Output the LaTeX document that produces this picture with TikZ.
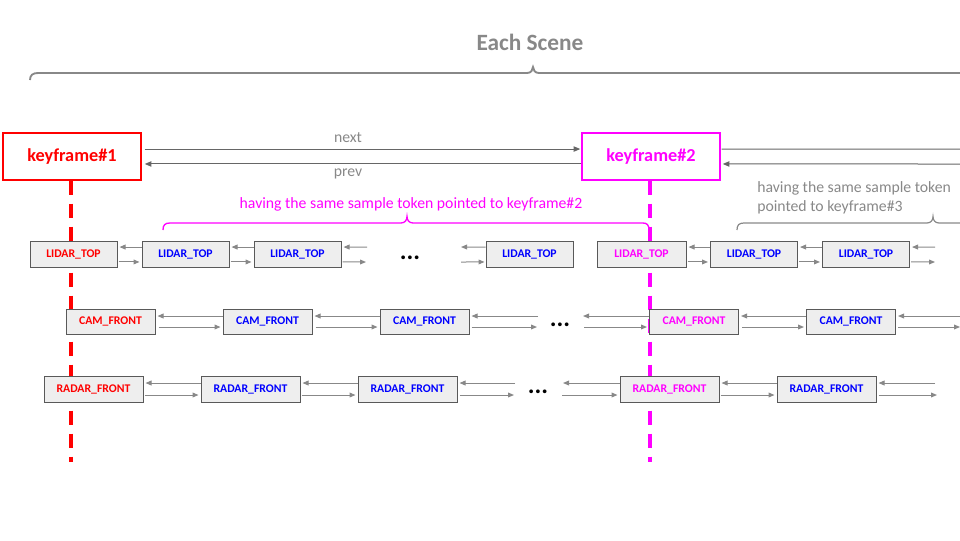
\documentclass[tikz,border=0pt]{standalone}
\usepackage{fontspec}
\setmainfont{Carlito}
\usetikzlibrary{arrows.meta}
\definecolor{kred}{HTML}{FF0000}
\definecolor{kmag}{HTML}{FF00FF}
\definecolor{kblue}{HTML}{0000FF}
\definecolor{tgray}{HTML}{888888}
\definecolor{agray}{HTML}{888888}
\definecolor{kgray}{HTML}{666666}
\definecolor{bborder}{HTML}{595959}
\definecolor{bfill}{HTML}{EEEEEE}
\tikzset{
  sbox/.style={draw=bborder, fill=bfill, line width=0.75pt, inner sep=0pt,
    font=\bfseries\fontsize{8.8}{10}\selectfont},
  lbox/.style={sbox, minimum width=65.25pt, minimum height=19.5pt},
  cbox/.style={sbox, minimum width=66.75pt, minimum height=18.75pt},
  rbox/.style={sbox, minimum width=74.25pt, minimum height=19.5pt},
  kfbox/.style={draw, fill=white, line width=1.1pt, minimum width=103.5pt, minimum height=35.25pt,
    inner sep=0pt, font=\bfseries\fontsize{13.7}{16}\selectfont},
  link/.style={draw=agray, line width=0.75pt, -{Triangle[length=4.5pt,width=3.6pt]}},
  plain/.style={draw=agray, line width=0.75pt},
  klink/.style={draw=kgray, line width=0.75pt, -{Triangle[length=5pt,width=4pt]}},
  kplain/.style={draw=kgray, line width=0.75pt},
  dots/.style={font=\bfseries\fontsize{19}{22}\selectfont, inner sep=0pt},
  kdash/.style={line width=3pt, dash pattern=on 10.5pt off 6.75pt},
  lbl/.style={text=tgray, font=\fontsize{11.8}{14}\selectfont, inner sep=0pt},
}
\begin{document}
\begin{tikzpicture}[x=0.75pt,y=-0.75pt]
\useasboundingbox (0,0) rectangle (960,540);

% title and scene brace
\node[text=tgray, font=\bfseries\fontsize{17.5}{20}\selectfont, inner sep=0pt] (title) at (530,42) {Each Scene};
\draw[tgray, line width=1.4pt] (30,80) .. controls (30,75) and (33,73) .. (38,73) -- (527,73)
  .. controls (531,73) and (533,70) .. (533,67) .. controls (533,70) and (535,73) .. (539,73) -- (965,73);

% keyframes
\node[kfbox, draw=kred, text=kred] (kf1) at (72,156.5) {keyframe\#1};
\node[kfbox, draw=kmag, text=kmag] (kf2) at (651,156.5) {keyframe\#2};

% dashed lines
\coordinate (d1) at (71,462);
\coordinate (d2) at (650,462);
\draw[kdash, kred] (kf1.south -| d1) -- (d1);
\draw[kdash, kmag] (kf2.south -| d2) -- (d2);

% next / prev
\draw[klink] ([xshift=2.25pt,yshift=5.6pt]kf1.east) -- ([xshift=-0.75pt,yshift=5.6pt]kf2.west);
\draw[klink] ([yshift=-5.6pt]kf2.west) -- ([xshift=2.25pt,yshift=-5.6pt]kf1.east);
\node[lbl] (nextl) at (348,138) {next};
\node[lbl] (prevl) at (348,174) {prev};
\coordinate (kn) at (962,149);
\coordinate (kp) at (962,164);
\draw[kplain] ([xshift=0.75pt,yshift=5.6pt]kf2.east) -- (kn);
\draw[klink] (kp) -- ([xshift=1.5pt,yshift=-5.6pt]kf2.east);

% magenta brace + text
\node[text=kmag, font=\fontsize{11.8}{14}\selectfont, inner sep=0pt] (t2) at (411,204) {having the same sample token pointed to keyframe\#2};
\draw[kmag, line width=1pt] (163,230) .. controls (163,225) and (165,223) .. (170,223) -- (401,223)
  .. controls (405,223) and (407,220) .. (407,216.5) .. controls (407,220) and (409,223) .. (413,223) -- (643,223)
  .. controls (647,223) and (649,225) .. (649,230);

% gray brace + text
\node[lbl, align=left, anchor=west, font=\fontsize{11.8}{14.25}\selectfont] (t3) at (757,197.5) {having the same sample token\\pointed to keyframe\#3};
\draw[tgray, line width=0.9pt] (737,230) .. controls (737,225) and (739,223) .. (744,223) -- (927,223)
  .. controls (931,223) and (933,220) .. (933,216.5) .. controls (933,220) and (935,223) .. (939,223) -- (965,223);

% LIDAR row
\node[lbox, text=kred] (l1) at (73.5,254.5) {LIDAR\_TOP};
\node[lbox, text=kblue] (l2) at (185.5,254.5) {LIDAR\_TOP};
\node[lbox, text=kblue] (l3) at (297.5,254.5) {LIDAR\_TOP};
\node[dots] (dl) at (410,257.5) {...};
\node[lbox, text=kblue] (l4) at (529.5,254.5) {LIDAR\_TOP};
\node[lbox, text=kmag, minimum width=66.75pt] (l5) at (641.5,254.5) {LIDAR\_TOP};
\node[lbox, text=kblue] (l6) at (754,254.5) {LIDAR\_TOP};
\node[lbox, text=kblue] (l7) at (866,254.5) {LIDAR\_TOP};
\foreach \a/\b in {l1/l2, l2/l3, l5/l6, l6/l7}{
  \draw[link] ([yshift=5.6pt]\b.west) -- ([xshift=1.5pt,yshift=5.6pt]\a.east);
  \draw[link] ([xshift=0.75pt,yshift=-5.6pt]\a.east) -- ([xshift=-1.5pt,yshift=-5.6pt]\b.west);
}
\coordinate (la1) at (367,247); \coordinate (la2) at (366,262);
\coordinate (lb1) at (461,247); \coordinate (lb2) at (461,262);
\coordinate (lc1) at (935,247); \coordinate (lc2) at (935,262);
\draw[link] (la1) -- ([xshift=1.5pt,yshift=5.6pt]l3.east);
\draw[link] ([xshift=0.75pt,yshift=-5.6pt]l3.east) -- (la2);
\draw[link] ([yshift=5.6pt]l4.west) -- (lb1);
\draw[link] (lb2) -- ([xshift=-0.75pt,yshift=-5.6pt]l4.west);
\draw[link] (lc1) -- ([xshift=1.5pt,yshift=5.6pt]l7.east);
\draw[link] ([xshift=0.75pt,yshift=-5.6pt]l7.east) -- (lc2);

% CAM row
\node[cbox, text=kred] (c1) at (110.5,321.5) {CAM\_FRONT};
\node[cbox, text=kblue] (c2) at (267.5,321.5) {CAM\_FRONT};
\node[cbox, text=kblue] (c3) at (424.5,321.5) {CAM\_FRONT};
\node[dots] (dc) at (560,325) {...};
\node[cbox, text=kmag] (c4) at (694,321.5) {CAM\_FRONT};
\node[cbox, text=kblue] (c5) at (851,321.5) {CAM\_FRONT};
\foreach \a/\b in {c1/c2, c2/c3, c4/c5}{
  \draw[link] ([yshift=4.125pt]\b.west) -- ([xshift=1.5pt,yshift=4.125pt]\a.east);
  \draw[link] ([xshift=2.25pt,yshift=-4.125pt]\a.east) -- ([xshift=-1.5pt,yshift=-4.125pt]\b.west);
}
\coordinate (ca1) at (538,316); \coordinate (ca2) at (537,327);
\coordinate (cb1) at (583,316); \coordinate (cb2) at (584,327);
\coordinate (cc1) at (962,316); \coordinate (cc2) at (960,327);
\draw[link] (ca1) -- ([xshift=1.5pt,yshift=4.125pt]c3.east);
\draw[link] ([xshift=1.5pt,yshift=-4.125pt]c3.east) -- (ca2);
\draw[link] ([yshift=4.125pt]c4.west) -- (cb1);
\draw[link] (cb2) -- ([xshift=-1.5pt,yshift=-4.125pt]c4.west);
\draw[link] (cc1) -- ([xshift=1.5pt,yshift=4.125pt]c5.east);
\draw[link] ([xshift=1.5pt,yshift=-4.125pt]c5.east) -- (cc2);

% RADAR row
\node[rbox, text=kred] (r1) at (93.5,389) {RADAR\_FRONT};
\node[rbox, text=kblue] (r2) at (250.5,389) {RADAR\_FRONT};
\node[rbox, text=kblue] (r3) at (407.5,389) {RADAR\_FRONT};
\node[dots] (dr) at (538,392) {...};
\node[rbox, text=kmag] (r4) at (669.5,389) {RADAR\_FRONT};
\node[rbox, text=kblue] (r5) at (826.5,389) {RADAR\_FRONT};
\foreach \a/\b in {r1/r2, r2/r3, r4/r5}{
  \draw[link] ([yshift=4.5pt]\b.west) -- ([xshift=1.5pt,yshift=4.5pt]\a.east);
  \draw[link] ([xshift=0.75pt,yshift=-4.5pt]\a.east) -- ([xshift=-1.5pt,yshift=-4.5pt]\b.west);
}
\coordinate (ra1) at (515,383); \coordinate (ra2) at (514,395);
\coordinate (rb1) at (563,383); \coordinate (rb2) at (562,395);
\coordinate (rc1) at (935,383); \coordinate (rc2) at (937,395);
\draw[link] (ra1) -- ([xshift=1.5pt,yshift=4.5pt]r3.east);
\draw[link] ([xshift=1.5pt,yshift=-4.5pt]r3.east) -- (ra2);
\draw[link] ([yshift=4.5pt]r4.west) -- (rb1);
\draw[link] (rb2) -- ([xshift=-1.5pt,yshift=-4.5pt]r4.west);
\draw[link] (rc1) -- ([xshift=1.5pt,yshift=4.5pt]r5.east);
\draw[link] ([xshift=1.5pt,yshift=-4.5pt]r5.east) -- (rc2);
\end{tikzpicture}
\end{document}
